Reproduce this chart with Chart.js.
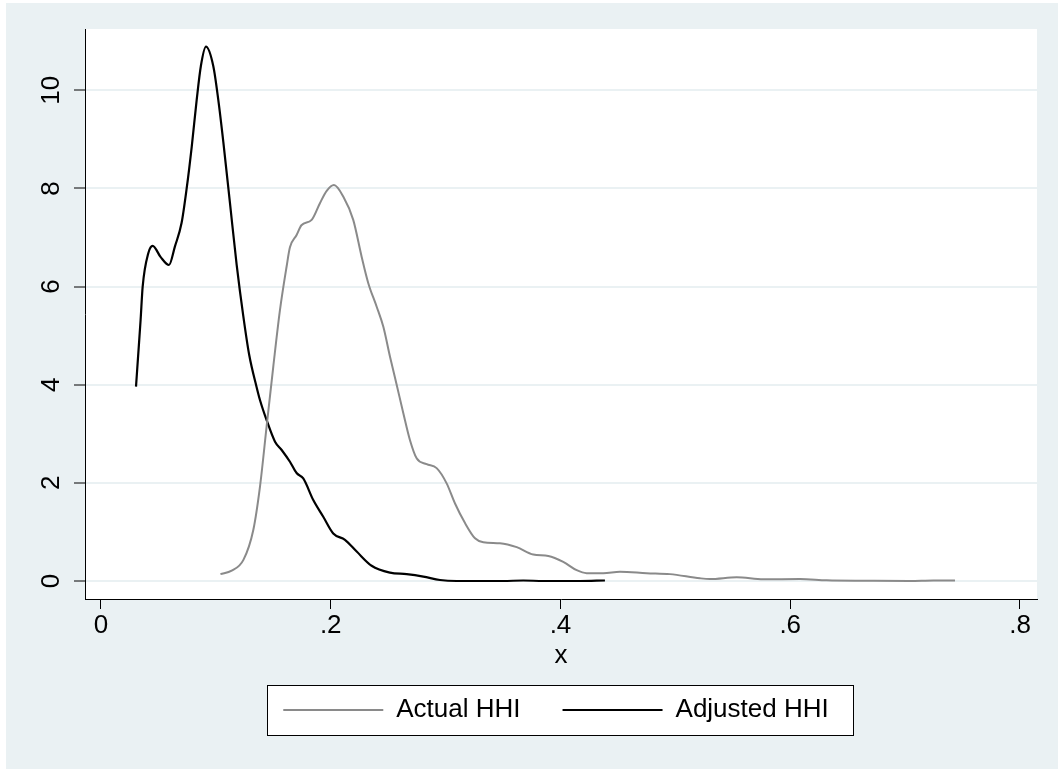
<!DOCTYPE html>
<html>
<head>
<meta charset="utf-8">
<script src="https://cdn.jsdelivr.net/npm/chart.js@4/dist/chart.umd.min.js"></script>
<style>
  body { margin: 0; background: #ffffff; }
  #id-hhi-chart { position: absolute; left: 6px; top: 3px; }
</style>
</head>
<body>
<canvas id="id-hhi-chart" width="1052" height="766"></canvas>
<script>
// kernel density of the concentration index
const actual_hhi_x = [0.104, 0.1138, 0.124, 0.1326, 0.1384, 0.1442, 0.150, 0.1558, 0.1616, 0.1645, 0.1703, 0.1745, 0.1834, 0.1906, 0.1965, 0.2028, 0.211, 0.2196, 0.2269, 0.2327, 0.240, 0.2458, 0.2516, 0.2574, 0.2632, 0.269, 0.2748, 0.2835, 0.2922, 0.3009, 0.3082, 0.3169, 0.3256, 0.3328, 0.3473, 0.3619, 0.3763, 0.3894, 0.4024, 0.4141, 0.4228, 0.4373, 0.4518, 0.475, 0.4953, 0.5214, 0.53, 0.5534, 0.5766, 0.6085, 0.6317, 0.6665, 0.7042, 0.7245, 0.7434];
const actual_hhi_y = [0.14, 0.21, 0.43, 1.04, 1.92, 3.15, 4.37, 5.52, 6.41, 6.8, 7.05, 7.25, 7.36, 7.70, 7.95, 8.07, 7.83, 7.36, 6.61, 6.07, 5.59, 5.18, 4.57, 4.00, 3.42, 2.87, 2.50, 2.38, 2.30, 1.99, 1.58, 1.18, 0.87, 0.79, 0.77, 0.69, 0.54, 0.51, 0.39, 0.22, 0.16, 0.16, 0.19, 0.16, 0.14, 0.055, 0.04, 0.075, 0.035, 0.04, 0.015, 0.006, 0.0, 0.01, 0.01];

const adjusted_hhi_x = [0.0305, 0.0325, 0.0345, 0.0363, 0.0412, 0.045, 0.052, 0.0592, 0.0644, 0.0702, 0.0746, 0.079, 0.0833, 0.087, 0.0914, 0.0978, 0.1021, 0.1065, 0.1123, 0.1181, 0.1239, 0.1291, 0.1355, 0.1384, 0.1442, 0.1515, 0.1573, 0.1645, 0.1703, 0.1761, 0.1848, 0.1935, 0.2022, 0.2124, 0.2226, 0.2356, 0.2516, 0.2661, 0.2806, 0.2951, 0.3096, 0.35, 0.3676, 0.385, 0.417, 0.4387];
const adjusted_hhi_y = [3.96, 4.64, 5.32, 6.00, 6.68, 6.83, 6.60, 6.44, 6.82, 7.30, 8.00, 8.85, 9.80, 10.50, 10.89, 10.49, 9.81, 8.95, 7.70, 6.45, 5.40, 4.60, 3.95, 3.69, 3.28, 2.84, 2.67, 2.43, 2.20, 2.09, 1.65, 1.31, 0.97, 0.84, 0.60, 0.31, 0.17, 0.14, 0.09, 0.02, 0.0, 0.0, 0.01, 0.0, 0.0, 0.01];

const x_tick_values = [0, 0.2, 0.4, 0.6, 0.8];
const x_tick_labels = ['0', '.2', '.4', '.6', '.8'];
const y_tick_values = [0, 2, 4, 6, 8, 10];
const y_tick_labels = ['0', '2', '4', '6', '8', '10'];

const BG_COLOR = '#eaf1f3';
const FONT = 'Liberation Sans, Arial, sans-serif';

function ToPoints(xs, ys)
{
  return xs.map((x, i) => ({ x: x, y: ys[i] }));
}

// stata look: bluish graph region, white plot region, boxed legend under the plot
const stata_frame =
{
  id: 'stataFrame',
  afterLayout(chart)
  {
    const lg = chart.legend;
    const h = lg.height;
    lg.left = chart.chartArea.left - 5;
    lg.right = chart.chartArea.right - 5;
    lg.top = chart.chartArea.bottom + 56;
    lg.bottom = lg.top + h;
  },
  beforeDraw(chart)
  {
    const ctx = chart.ctx;
    const a = chart.chartArea;
    ctx.save();
    ctx.fillStyle = BG_COLOR;
    ctx.fillRect(0, 0, chart.width, chart.height);
    ctx.fillStyle = '#ffffff';
    ctx.fillRect(a.left, a.top, a.right - a.left, a.bottom - a.top);

    const hb = chart.legend.legendHitBoxes;
    if (hb && hb.length)
    {
      const first = hb[0];
      const last = hb[hb.length - 1];
      const cy = first.top + first.height / 2;
      const x0 = Math.round(first.left - 16);
      const x1 = Math.round(last.left + last.width + 24);
      ctx.fillRect(x0, cy - 25, x1 - x0, 50);
      ctx.strokeStyle = '#000000';
      ctx.lineWidth = 1;
      ctx.strokeRect(x0 + 0.5, Math.round(cy - 25) + 0.5, x1 - x0, 50);
    }
    ctx.restore();
  }
};

const data_hhi =
{
  datasets:
  [
    {
      label: 'Actual HHI',
      data: ToPoints(actual_hhi_x, actual_hhi_y),
      borderColor: '#8a8a8a',
      backgroundColor: '#8a8a8a',
      borderWidth: 2,
      pointRadius: 0,
      cubicInterpolationMode: 'monotone'
    },
    {
      label: 'Adjusted HHI',
      data: ToPoints(adjusted_hhi_x, adjusted_hhi_y),
      borderColor: '#000000',
      backgroundColor: '#000000',
      borderWidth: 2.2,
      pointRadius: 0,
      cubicInterpolationMode: 'monotone'
    }
  ]
};

const config_hhi =
{
  type: 'line',
  data: data_hhi,
  options:
  {
    responsive: false,
    animation: false,
    devicePixelRatio: 1,
    layout: { padding: { top: 26, right: 21, bottom: 16, left: 0 } },
    plugins:
    {
      tooltip: { enabled: false },
      legend:
      {
        position: 'bottom',
        labels:
        {
          boxWidth: 100,
          boxHeight: 2,
          padding: 42,
          color: '#000000',
          font: { family: FONT, size: 26 },
          generateLabels: (chart) => chart.data.datasets.map((ds, i) => ({
            text: ds.label,
            fillStyle: ds.borderColor,
            strokeStyle: ds.borderColor,
            lineWidth: 0,
            hidden: false,
            datasetIndex: i,
            fontColor: '#000000'
          }))
        }
      }
    },
    scales:
    {
      x:
      {
        type: 'linear',
        min: -0.0139,
        max: 0.8148,
        afterFit: (scale) => { scale.height = 76; },
        afterBuildTicks: (scale) => { scale.ticks = x_tick_values.map(v => ({ value: v })); },
        grid: { drawOnChartArea: false, drawTicks: true, tickLength: 10, tickColor: '#000000', tickWidth: 1 },
        border: { display: true, color: '#000000', width: 1 },
        ticks:
        {
          autoSkip: false,
          maxRotation: 0,
          padding: 1,
          color: '#000000',
          font: { family: FONT, size: 26 },
          callback: (value, index) => x_tick_labels[index]
        },
        title:
        {
          display: true,
          text: 'x',
          color: '#000000',
          font: { family: FONT, size: 26 },
          padding: { top: 0, bottom: 4 }
        }
      },
      y:
      {
        min: -0.367,
        max: 11.25,
        afterFit: (scale) => { scale.width = 79; },
        afterBuildTicks: (scale) => { scale.ticks = y_tick_values.map(v => ({ value: v })); },
        grid: { color: BG_COLOR, lineWidth: 2, drawTicks: true, tickLength: 11, tickColor: '#000000', tickWidth: 1 },
        border: { display: true, color: '#000000', width: 1 },
        ticks:
        {
          autoSkip: false,
          minRotation: 90,
          maxRotation: 90,
          crossAlign: 'center',
          padding: 8,
          color: '#000000',
          font: { family: FONT, size: 26 },
          callback: (value, index) => y_tick_labels[index]
        }
      }
    }
  },
  plugins: [stata_frame]
};

document.addEventListener("DOMContentLoaded", function()
{
  const ctx = document.getElementById('id-hhi-chart').getContext('2d');
  new Chart(ctx, config_hhi);
});
</script>
</body>
</html>
